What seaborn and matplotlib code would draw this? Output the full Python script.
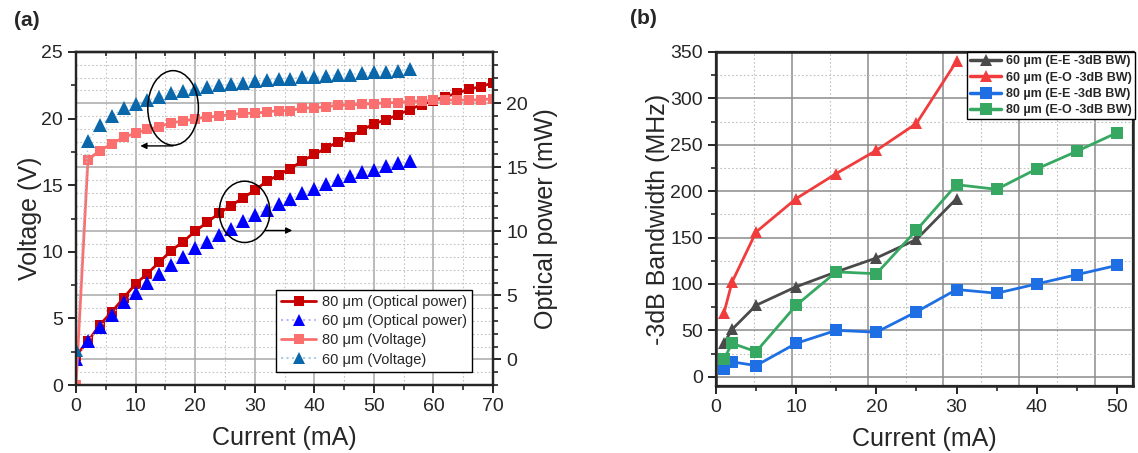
import numpy as np
import pandas as pd
import matplotlib
matplotlib.use("Agg")
import matplotlib.pyplot as plt
import seaborn as sns
from matplotlib.lines import Line2D
from matplotlib.patches import Ellipse
from matplotlib.ticker import MultipleLocator

# -----------------------------
# data, panel (a)
# -----------------------------
cur_80 = [0, 2, 4, 6, 8, 10, 12, 14, 16, 18, 20, 22, 24, 26, 28, 30, 32, 34,
          36, 38, 40, 42, 44, 46, 48, 50, 52, 54, 56, 58, 60, 62, 64, 66, 68, 70]
cur_60 = [0, 2, 4, 6, 8, 10, 12, 14, 16, 18, 20, 22, 24, 26, 28, 30, 32, 34,
          36, 38, 40, 42, 44, 46, 48, 50, 52, 54, 56]

power_80 = [0.3, 1.4, 2.7, 3.7, 4.8, 5.9, 6.7, 7.6, 8.5, 9.2, 10.0, 10.7, 11.4, 12.0,
            12.6, 13.2, 13.9, 14.4, 14.9, 15.5, 16.0, 16.5, 17.0, 17.4, 17.9, 18.4,
            18.7, 19.1, 19.5, 19.9, 20.2, 20.5, 20.8, 21.1, 21.3, 21.6]
power_60 = [0.0, 1.4, 2.5, 3.5, 4.5, 5.2, 6.0, 6.7, 7.4, 8.0, 8.7, 9.2, 9.7, 10.2,
            10.8, 11.3, 11.7, 12.1, 12.5, 13.0, 13.3, 13.7, 14.0, 14.3, 14.6, 14.8,
            15.1, 15.3, 15.5]
volt_80 = [0.0, 16.9, 17.6, 18.1, 18.6, 18.9, 19.2, 19.4, 19.7, 19.8, 20.0, 20.1,
           20.2, 20.3, 20.4, 20.4, 20.5, 20.6, 20.6, 20.8, 20.8, 20.9, 21.0, 21.0,
           21.1, 21.1, 21.2, 21.2, 21.3, 21.3, 21.4, 21.4, 21.4, 21.4, 21.4, 21.5]
volt_60 = [2.6, 18.3, 19.5, 20.2, 20.8, 21.1, 21.4, 21.6, 21.9, 22.1, 22.2, 22.4,
           22.5, 22.6, 22.7, 22.8, 22.9, 23.0, 23.0, 23.1, 23.1, 23.2, 23.3, 23.3,
           23.4, 23.5, 23.5, 23.6, 23.7]

# -----------------------------
# data, panel (b)
# -----------------------------
cur_b60 = [1, 2, 5, 10, 15, 20, 25, 30]
cur_b80 = [1, 2, 5, 10, 15, 20, 25, 30, 35, 40, 45, 50]
bw_60_ee = [36, 51, 77, 97, 113, 128, 148, 192]
bw_60_eo = [69, 102, 156, 192, 219, 244, 273, 340]
bw_80_ee = [8, 16, 12, 36, 50, 48, 70, 94, 90, 100, 110, 120]
bw_80_eo = [19, 36, 27, 77, 113, 111, 158, 207, 202, 224, 243, 263]

labels_a = ["80 \u03bcm (Optical power)", "60 \u03bcm (Optical power)",
            "80 \u03bcm (Voltage)", "60 \u03bcm (Voltage)"]
labels_b = ["60 \u00b5m (E-E -3dB BW)", "60 \u00b5m (E-O -3dB BW)",
            "80 \u00b5m (E-E -3dB BW)", "80 \u00b5m (E-O -3dB BW)"]

df_80 = pd.DataFrame({"current": cur_80, "power": power_80, "voltage": volt_80})
df_60 = pd.DataFrame({"current": cur_60, "power": power_60, "voltage": volt_60})

sns.set_style("ticks")
plt.rcParams["font.family"] = ["Liberation Sans", "DejaVu Sans"]
plt.rcParams["axes.linewidth"] = 1.6

fig = plt.figure(figsize=(11.38, 4.53), dpi=100)

C_P80 = "#c80000"
C_P60 = "#0000ff"
C_V80 = "#fb6f6f"
C_V60 = "#0a68aa"

# -----------------------------
# panel (a)
# -----------------------------
ax = fig.add_axes([76 / 1138, 68 / 453, 417 / 1138, 333 / 453])
ax2 = ax.twinx()
# grid axes (optical power) below, voltage axes on top
ax.set_zorder(2)
ax.patch.set_visible(False)
ax2.set_zorder(1)
ax2.patch.set_visible(True)
ax2.patch.set_facecolor("white")

sns.lineplot(data=df_80, x="current", y="power", ax=ax2, color=C_P80, marker="s",
             markersize=7.5, linewidth=2, mec=C_P80, mew=0)
sns.lineplot(data=df_60, x="current", y="power", ax=ax2, color="#b8b8ff",
             linestyle=":", linewidth=1, marker="^", markersize=9.5,
             markerfacecolor=C_P60, mec=C_P60, mew=0)
sns.lineplot(data=df_80, x="current", y="voltage", ax=ax, color=C_V80, marker="s",
             markersize=7.5, linewidth=2, mec=C_V80, mew=0)
sns.lineplot(data=df_60, x="current", y="voltage", ax=ax, color="#a8cce6",
             linestyle=":", linewidth=1, marker="^", markersize=9.5,
             markerfacecolor=C_V60, mec=C_V60, mew=0)

ax.set_xlim(0, 70)
ax.set_ylim(0, 25)
ax2.set_ylim(-2, 24)
ax.xaxis.set_major_locator(MultipleLocator(10))
ax.xaxis.set_minor_locator(MultipleLocator(5))
ax.yaxis.set_major_locator(MultipleLocator(5))
ax.yaxis.set_minor_locator(MultipleLocator(2.5))
ax2.yaxis.set_major_locator(MultipleLocator(5))
ax2.yaxis.set_minor_locator(MultipleLocator(1))

ax2.xaxis.set_visible(True)
ax2.set_xlabel("")
ax2.tick_params(axis="x", which="both", bottom=False, top=False,
                labelbottom=False, labeltop=False)
ax2.grid(which="major", color="#a8a8a8", linewidth=1.1, linestyle="-")
ax2.grid(which="minor", color="#c4c4c4", linewidth=0.8, linestyle=(0, (1.5, 2)))
ax2.set_axisbelow(True)

ax.tick_params(which="major", direction="out", length=6, width=1.4, labelsize=14)
ax.tick_params(which="minor", direction="out", length=3.5, width=1.2)
ax2.tick_params(axis="y", which="major", direction="out", length=6, width=1.4,
                labelsize=14)
ax2.tick_params(axis="y", which="minor", direction="out", length=3.5, width=1.2)
top_a = ax.secondary_xaxis("top")
top_a.xaxis.set_major_locator(MultipleLocator(10))
top_a.xaxis.set_minor_locator(MultipleLocator(5))
top_a.tick_params(which="both", direction="in", labeltop=False, width=1.2)
top_a.tick_params(which="major", length=5)
top_a.tick_params(which="minor", length=3)

ax.set_xlabel("Current (mA)", fontsize=18, labelpad=8)
ax.set_ylabel("Voltage (V)", fontsize=18, labelpad=-1)
ax2.set_ylabel("Optical power (mW)", fontsize=18, labelpad=4)

# circles and arrows
ax.add_patch(Ellipse((16.3, 20.8), 8.5, 5.6, fill=False, edgecolor="black",
                     linewidth=1.1, zorder=5))
ax.add_patch(Ellipse((28.3, 13.0), 8.5, 4.6, fill=False, edgecolor="black",
                     linewidth=1.1, zorder=5))
ax.annotate("", xy=(10.8, 17.95), xytext=(16.3, 17.95),
            arrowprops=dict(arrowstyle="-|>", color="black", lw=1,
                            mutation_scale=9, shrinkA=0, shrinkB=0))
ax.annotate("", xy=(36.3, 11.6), xytext=(31.8, 11.6),
            arrowprops=dict(arrowstyle="-|>", color="black", lw=1,
                            mutation_scale=9, shrinkA=0, shrinkB=0))

handles_a = [
    Line2D([], [], color=C_P80, marker="s", markersize=7, linewidth=2, mew=0),
    Line2D([], [], color="#b8b8ff", linestyle=":", marker="^", markersize=9,
           markerfacecolor=C_P60, mec=C_P60, mew=0),
    Line2D([], [], color=C_V80, marker="s", markersize=7, linewidth=2, mew=0),
    Line2D([], [], color="#a8cce6", linestyle=":", marker="^", markersize=9,
           markerfacecolor=C_V60, mec=C_V60, mew=0),
]
leg_a = ax.legend(handles_a, labels_a, loc="lower right", bbox_to_anchor=(0.95, 0.04),
                  borderaxespad=0, fontsize=10.5, frameon=True, fancybox=False,
                  edgecolor="black", framealpha=1, handlelength=2.4,
                  labelspacing=0.35, borderpad=0.35, handletextpad=0.4)
leg_a.get_frame().set_linewidth(1.0)
leg_a.set_zorder(10)

fig.text(14 / 1138, 1 - 20 / 453, "(a)", fontsize=15, fontweight="bold",
         ha="left", va="center")

# -----------------------------
# panel (b)
# -----------------------------
axb = fig.add_axes([716 / 1138, 67 / 453, 417 / 1138, 334 / 453])
axg = axb.twiny()
axb.set_zorder(2)
axb.patch.set_visible(False)
axg.set_zorder(1)
axg.patch.set_visible(True)
axg.patch.set_facecolor("white")

colors_b = ["#4a4a4a", "#f03c3c", "#1f6fe4", "#36a862"]
series_b = [(cur_b60, bw_60_ee, "^"), (cur_b60, bw_60_eo, "^"),
            (cur_b80, bw_80_ee, "s"), (cur_b80, bw_80_eo, "s")]
for (xs, ys, mk), col in zip(series_b, colors_b):
    sns.lineplot(x=xs, y=ys, ax=axb, color=col, marker=mk, markersize=8,
                 linewidth=2, mec=col, mew=0)

axb.set_xlim(0, 52)
axb.set_ylim(-10, 350)
axb.xaxis.set_major_locator(MultipleLocator(10))
axb.xaxis.set_minor_locator(MultipleLocator(5))
axb.yaxis.set_major_locator(MultipleLocator(50))
axb.yaxis.set_minor_locator(MultipleLocator(25))
axb.grid(axis="y", which="major", color="#8c8c8c", linewidth=1.1)
axb.grid(axis="y", which="minor", color="#c0c0c0", linewidth=0.8,
         linestyle=(0, (1.5, 2)))
axb.set_axisbelow(True)

# vertical grid comes from a hidden top scale, as in the original figure
axg.set_xlim(0, 55)
axg.xaxis.set_major_locator(MultipleLocator(10))
axg.xaxis.set_minor_locator(MultipleLocator(5))
axg.grid(axis="x", which="major", color="#8c8c8c", linewidth=1.1)
axg.grid(axis="x", which="minor", color="#c0c0c0", linewidth=0.8,
         linestyle=(0, (1.5, 2)))
axg.tick_params(axis="x", which="both", top=False, bottom=False,
                labeltop=False, labelbottom=False)

axb.tick_params(which="major", direction="out", length=6, width=1.4, labelsize=14)
axb.tick_params(which="minor", direction="out", length=3.5, width=1.2)
axb.set_xlabel("Current (mA)", fontsize=18, labelpad=8)
axb.set_ylabel("-3dB Bandwidth (MHz)", fontsize=18, labelpad=0)
for side in ["top", "right", "left", "bottom"]:
    axb.spines[side].set_linewidth(1.8)

handles_b = [Line2D([], [], color=c, marker=m, markersize=8, linewidth=2.5, mew=0)
             for (_, _, m), c in zip(series_b, colors_b)]
leg_b = axb.legend(handles_b, labels_b, loc="upper left",
                   bbox_to_anchor=((967 - 716) / 417, 1.0), borderaxespad=0,
                   prop={"size": 9, "weight": "bold"}, frameon=True,
                   fancybox=False, edgecolor="black", framealpha=1,
                   handlelength=2.5, labelspacing=0.35, borderpad=0.25,
                   handletextpad=0.35)
leg_b.get_frame().set_linewidth(1.0)

fig.text(630 / 1138, 1 - 18 / 453, "(b)", fontsize=15, fontweight="bold",
         ha="left", va="center")

fig.savefig("out.png", dpi=100)
